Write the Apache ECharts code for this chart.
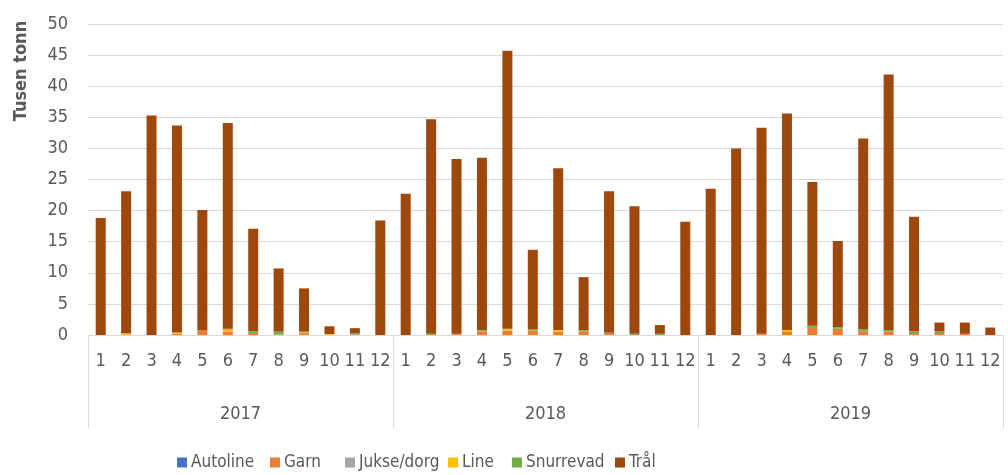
<!DOCTYPE html>
<html>
<head>
<meta charset="utf-8">
<script src="https://cdn.jsdelivr.net/npm/echarts@6/dist/echarts.min.js"></script>
<style>html,body{margin:0;padding:0;background:#fff}#c{width:1008px;height:475px}</style>
</head>
<body>
<div id="c"></div>
<script>
const years = ['2017', '2018', '2019'];
const months = ['1','2','3','4','5','6','7','8','9','10','11','12'];
const seriesNames = ['Autoline', 'Garn', 'Jukse/dorg', 'Line', 'Snurrevad', 'Trål'];
const autoline = [0,0,0,0,0,0,0,0,0,0,0,0, 0,0,0,0,0,0,0,0,0,0,0,0, 0,0,0,0,0,0,0,0,0,0,0,0];
const garn = [0,0.1,0,0.2,0.8,0.5,0.3,0.1,0.3,0.05,0.05,0, 0,0,0.2,0.55,0.7,0.7,0.55,0.55,0.15,0,0,0, 0,0,0.2,0.6,1.3,1.0,0.6,0.6,0.15,0.15,0.2,0];
const jukse = [0,0,0,0,0,0,0,0,0,0,0,0, 0,0,0,0,0,0,0,0,0,0,0,0, 0,0,0,0,0,0,0,0,0,0,0,0];
const line = [0,0.2,0,0.2,0,0.35,0,0,0.1,0.1,0,0, 0,0,0,0,0.3,0,0.25,0,0,0,0,0, 0,0,0,0.2,0,0,0,0,0,0,0,0];
const snurrevad = [0,0,0,0,0,0.15,0.3,0.45,0.15,0,0.2,0, 0,0.2,0,0.2,0,0.25,0,0.2,0.2,0.2,0.2,0, 0,0,0,0,0.2,0.25,0.35,0.2,0.45,0.45,0,0];
const tral = [18.8,22.8,35.3,33.3,19.3,33.1,16.5,10.15,6.95,1.25,0.85,18.4,
              22.7,34.5,28.1,27.75,44.7,12.75,26.0,8.55,22.75,20.5,1.4,18.2,
              23.5,30.0,33.1,34.8,23.1,13.85,30.65,41.1,18.4,1.4,1.8,1.2];
const yTicks = {min: 0, max: 50, interval: 5};

const colors = ['#4472C4', '#ED7D31', '#A5A5A5', '#FFC000', '#70AD47', '#9E480E'];
const seriesData = [autoline, garn, jukse, line, snurrevad, tral];
const monthCats = [];
years.forEach(y => months.forEach(m => monthCats.push(m)));

const font = '"Liberation Sans Narrow", "DejaVu Sans Condensed", "Liberation Sans", sans-serif';
const txt = '#595959';
const legendLefts = [177, 270, 345, 448, 512, 615];

const chart = echarts.init(document.getElementById('c'), null, {renderer: 'canvas'});
chart.setOption({
  animation: false,
  color: colors,
  textStyle: {fontFamily: font, color: txt},
  grid: {left: 88, right: 5, top: 24, bottom: 140, containLabel: false},
  legend: seriesNames.map((n, i) => ({
    data: [n], left: legendLefts[i], top: 454, itemWidth: 10, itemHeight: 10, itemGap: 5,
    icon: 'rect', padding: 0,
    textStyle: {fontFamily: font, fontSize: 17, color: txt, padding: [0, 0, 0, -1]}
  })),
  xAxis: [
    {
      type: 'category', data: monthCats, position: 'bottom',
      axisLine: {show: true, lineStyle: {color: '#D9D9D9', width: 1}},
      axisTick: {show: false},
      axisLabel: {interval: 0, margin: 17, fontSize: 18, color: txt, fontFamily: font}
    },
    {
      type: 'category', data: years, position: 'bottom', gridIndex: 0,
      axisLine: {show: false},
      axisTick: {show: true, length: 93, lineStyle: {color: '#D9D9D9', width: 1}},
      axisLabel: {margin: 70, fontSize: 18, color: txt, fontFamily: font}
    }
  ],
  yAxis: {
    type: 'value', min: yTicks.min, max: yTicks.max, interval: yTicks.interval,
    axisLine: {show: false}, axisTick: {show: false},
    axisLabel: {margin: 20, fontSize: 18, color: txt, fontFamily: font},
    splitLine: {lineStyle: {color: '#D9D9D9', width: 1}}
  },
  graphic: [{
    type: 'text', x: 21, y: 71, rotation: Math.PI / 2,
    style: {text: 'Tusen tonn', fontSize: 18, fontFamily: font, fill: txt,
            fontWeight: 'bold', textAlign: 'center', textVerticalAlign: 'middle'}
  }],
  series: seriesNames.map((n, i) => ({
    name: n, type: 'bar', stack: 'total', xAxisIndex: 0, barWidth: 10,
    data: seriesData[i],
    itemStyle: {color: colors[i]}
  }))
});
</script>
</body>
</html>
